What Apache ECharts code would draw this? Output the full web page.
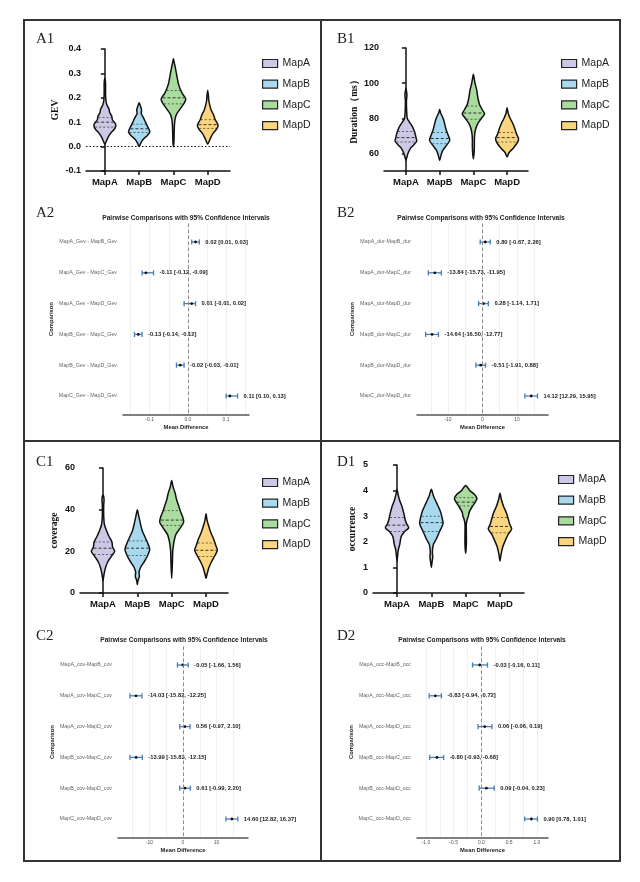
<!DOCTYPE html>
<html>
<head>
<meta charset="utf-8">
<script src="https://cdn.jsdelivr.net/npm/echarts@6/dist/echarts.min.js"></script>
<style>
  html, body { margin: 0; padding: 0; background: #fff; }
  #chart { width: 640px; height: 882px; }
</style>
</head>
<body>
<div id="chart"></div>
<script>
const maps = ['MapA', 'MapB', 'MapC', 'MapD'];
const mapColors = ['#cdc8e6', '#a9d9ef', '#a9dc9e', '#fad680'];

// violin outlines: [value, half width in category units]
const gevA = [[0.28,0],[0.26,0.02],[0.22,0.02],[0.19,0.03],[0.17,0.06],[0.155,0.12],[0.14,0.14],[0.125,0.2],[0.11,0.22],[0.095,0.3],[0.085,0.32],[0.07,0.27],[0.055,0.17],[0.04,0.1],[0.025,0.05],[0.01,0]];
const gevB = [[0.18,0],[0.165,0.04],[0.15,0.07],[0.135,0.06],[0.12,0.12],[0.105,0.17],[0.09,0.22],[0.075,0.27],[0.06,0.31],[0.045,0.24],[0.03,0.12],[0.015,0.05],[0,0]];
const gevC = [[0.36,0],[0.34,0.03],[0.32,0.06],[0.29,0.1],[0.26,0.14],[0.235,0.2],[0.215,0.27],[0.195,0.36],[0.175,0.3],[0.155,0.2],[0.135,0.1],[0.115,0.05],[0.09,0.03],[0.05,0.02],[0.02,0.015],[0,0]];
const gevD = [[0.23,0],[0.21,0.02],[0.19,0.03],[0.17,0.06],[0.15,0.1],[0.13,0.17],[0.11,0.22],[0.095,0.28],[0.085,0.3],[0.07,0.25],[0.055,0.16],[0.04,0.1],[0.025,0.05],[0.01,0]];
const gevQuart = [[0.08,0.10,0.12],[0.058,0.073,0.092],[0.175,0.2,0.23],[0.075,0.09,0.11]];

const durA = [[97,0],[95,0.02],[93,0.03],[90,0.015],[85,0.02],[80,0.04],[78,0.1],[75,0.2],[72,0.26],[69,0.3],[67,0.32],[65,0.24],[63,0.14],[60,0.06],[58,0.03],[56,0]];
const durB = [[85,0],[83,0.03],[81,0.08],[79,0.12],[76,0.16],[73,0.2],[70,0.26],[67.5,0.3],[65,0.22],[62,0.1],[59,0.04],[56,0]];
const durC = [[105,0],[102,0.03],[99,0.06],[96,0.1],[92,0.13],[88,0.18],[85,0.26],[82.5,0.33],[80,0.24],[77,0.13],[74,0.07],[71,0.04],[68,0.03],[64,0.03],[60,0.02],[57,0]];
const durD = [[86,0],[83,0.03],[80,0.09],[77,0.17],[74,0.23],[71,0.28],[68.5,0.34],[66,0.3],[63,0.18],[60.5,0.06],[58,0]];
const durQuart = [[66.5,69,72.5],[65.5,68.5,72],[79.5,83,87],[66.5,69,72]];

const covA = [[47,0],[45,0.03],[42,0.02],[37,0.02],[33,0.04],[30,0.1],[27,0.18],[24.5,0.26],[22,0.28],[20,0.34],[17.5,0.24],[15,0.14],[12,0.07],[9,0.03],[6,0]];
const covB = [[40,0],[37,0.04],[34,0.08],[30,0.14],[27,0.22],[24,0.3],[21,0.36],[18,0.3],[15,0.2],[12.5,0.1],[10,0.05],[8,0.06],[6,0.02],[4,0]];
const covC = [[54,0],[51,0.04],[48,0.1],[45,0.14],[42,0.2],[39,0.26],[36.5,0.32],[34,0.35],[31,0.24],[28,0.12],[25,0.07],[23,0.05],[20,0.03],[14,0.02],[7,0]];
const covD = [[38,0],[35,0.03],[32,0.08],[29,0.14],[26,0.22],[23,0.28],[20.5,0.33],[18,0.26],[15,0.16],[12,0.08],[9,0.03],[7,0]];
const covQuart = [[18.5,21.5,24.5],[18,21.5,25],[32.5,35,39.5],[17.5,20.5,24]];

const occA = [[4.05,0],[3.85,0.03],[3.6,0.08],[3.4,0.14],[3.1,0.2],[2.85,0.24],[2.7,0.28],[2.55,0.34],[2.4,0.22],[2.2,0.12],[1.9,0.08],[1.7,0.04],[1.5,0.02],[1.25,0]];
const occB = [[4.05,0],[3.8,0.06],[3.5,0.16],[3.2,0.26],[2.9,0.32],[2.7,0.34],[2.4,0.24],[2.1,0.14],[1.9,0.06],[1.6,0.03],[1.4,0.04],[1.2,0.02],[1.0,0]];
const occC = [[4.2,0],[4.0,0.12],[3.85,0.26],[3.7,0.33],[3.55,0.28],[3.35,0.18],[3.15,0.1],[3.0,0.08],[2.9,0.05],[2.7,0.02],[2.3,0.02],[1.9,0.02],[1.55,0]];
const occD = [[3.9,0],[3.65,0.04],[3.4,0.1],[3.15,0.18],[2.9,0.24],[2.7,0.28],[2.5,0.34],[2.3,0.24],[2.0,0.14],[1.8,0.08],[1.5,0.03],[1.25,0]];
const occQuart = [[2.4,2.65,2.95],[2.4,2.75,3.0],[3.4,3.55,3.72],[2.35,2.6,2.95]];

// y tick labels of the violin panels
const gevTicks = [-0.1, 0, 0.1, 0.2, 0.3, 0.4];
const durTicks = [60, 80, 100, 120];
const covTicks = [0, 20, 40, 60];
const occTicks = [0, 1, 2, 3, 4, 5];

// pairwise comparisons: mean difference with 95% CI
const gevNames = ['MapA_Gev - MapB_Gev','MapA_Gev - MapC_Gev','MapA_Gev - MapD_Gev','MapB_Gev - MapC_Gev','MapB_Gev - MapD_Gev','MapC_Gev - MapD_Gev'];
const gevMean = [0.02, -0.11, 0.01, -0.13, -0.02, 0.11];
const gevLo = [0.01, -0.12, -0.01, -0.14, -0.03, 0.10];
const gevHi = [0.03, -0.09, 0.02, -0.12, -0.01, 0.13];

const durNames = ['MapA_dur-MapB_dur','MapA_dur-MapC_dur','MapA_dur-MapD_dur','MapB_dur-MapC_dur','MapB_dur-MapD_dur','MapC_dur-MapD_dur'];
const durMean = [0.80, -13.84, 0.28, -14.64, -0.51, 14.12];
const durLo = [-0.67, -15.73, -1.14, -16.50, -1.91, 12.29];
const durHi = [2.26, -11.95, 1.71, -12.77, 0.88, 15.95];

const covNames = ['MapA_cov-MapB_cov','MapA_cov-MapC_cov','MapA_cov-MapD_cov','MapB_cov-MapC_cov','MapB_cov-MapD_cov','MapC_cov-MapD_cov'];
const covMean = [-0.05, -14.03, 0.56, -13.99, 0.61, 14.60];
const covLo = [-1.66, -15.82, -0.97, -15.83, -0.99, 12.82];
const covHi = [1.56, -12.25, 2.10, -12.15, 2.20, 16.37];

const occNames = ['MapA_occ-MapB_occ','MapA_occ-MapC_occ','MapA_occ-MapD_occ','MapB_occ-MapC_occ','MapB_occ-MapD_occ','MapC_occ-MapD_occ'];
const occMean = [-0.03, -0.83, 0.06, -0.80, 0.09, 0.90];
const occLo = [-0.16, -0.94, -0.06, -0.93, -0.04, 0.78];
const occHi = [0.11, -0.72, 0.19, -0.68, 0.23, 1.01];

const SANS = 'Liberation Sans';
const SERIF = 'Liberation Serif';
const ciBlue = '#4a7db6';

const grid = [], xAxis = [], yAxis = [], series = [], legend = [];

// half width of a violin at value v (outline is sorted top to bottom)
function widthAt(profile, v) {
  for (let i = 0; i < profile.length - 1; i++) {
    const a = profile[i], b = profile[i + 1];
    if (v <= a[0] && v >= b[0]) {
      const t = (a[0] - v) / (a[0] - b[0]);
      return a[1] + (b[1] - a[1]) * t;
    }
  }
  return 0;
}

function violinPanel(box, xRange, yRange, ticks, tickFmt, yName, nameGap, profiles, quarts, legendPos, zeroLine) {
  const gi = grid.length;
  grid.push({ left: box[0], top: box[1], width: box[2], height: box[3], containLabel: false, outerBoundsMode: 'none' });
  xAxis.push({
    type: 'value', gridIndex: gi, min: xRange[0], max: xRange[1],
    axisLine: { show: true, onZero: false, lineStyle: { color: '#111', width: 1.5 } },
    axisTick: { show: true, customValues: [0, 1, 2, 3], length: 4, lineStyle: { color: '#111', width: 1.5 } },
    axisLabel: { customValues: [0, 1, 2, 3], formatter: v => maps[v], color: '#111', fontWeight: 'bold', fontSize: 9.5, fontFamily: SANS, margin: 6 },
    splitLine: { show: false }
  });
  yAxis.push({
    type: 'value', gridIndex: gi, min: yRange[0], max: yRange[1],
    name: yName, nameLocation: 'middle', nameGap: nameGap,
    nameTextStyle: { fontFamily: SERIF, fontWeight: 'bold', fontSize: 9.5, color: '#111' },
    axisLine: { show: true, lineStyle: { color: '#111', width: 1.5 } },
    axisTick: { show: true, customValues: ticks, length: 4, lineStyle: { color: '#111', width: 1.5 } },
    axisLabel: { customValues: ticks, formatter: tickFmt, color: '#111', fontWeight: 'bold', fontSize: 9, fontFamily: SANS, margin: 5 },
    splitLine: { show: false }
  });
  profiles.forEach((profile, i) => {
    const quart = quarts[i];
    const s = {
      type: 'custom', name: maps[i], xAxisIndex: gi, yAxisIndex: gi,
      itemStyle: { color: mapColors[i] }, silent: true, animation: false,
      data: [[i, quart[1]]],
      renderItem: (params, api) => {
        const c = api.value(0);
        const right = profile.map(p => api.coord([c + p[1], p[0]]));
        const left = profile.slice().reverse().filter(p => p[1] > 0).map(p => api.coord([c - p[1], p[0]]));
        const children = [{
          type: 'polygon',
          shape: { points: right.concat(left), smooth: 0.25 },
          style: { fill: api.visual('color'), stroke: '#111', lineWidth: 1.5, lineJoin: 'round' }
        }];
        quart.forEach((q, k) => {
          const w = widthAt(profile, q) - 0.02;
          const a = api.coord([c - w, q]), b = api.coord([c + w, q]);
          children.push({
            type: 'line', shape: { x1: a[0], y1: a[1], x2: b[0], y2: b[1] },
            style: { stroke: '#333', lineWidth: k === 1 ? 1 : 0.7, lineDash: k === 1 ? [3, 2] : [2, 2] }
          });
        });
        return { type: 'group', children };
      }
    };
    if (i === 0 && zeroLine) {
      s.markLine = {
        silent: true, symbol: 'none', animation: false, label: { show: false },
        lineStyle: { color: '#111', type: [1.5, 2], width: 1.2 },
        data: [{ yAxis: 0 }]
      };
    }
    series.push(s);
  });
  legend.push({
    orient: 'vertical', left: legendPos[0], top: legendPos[1], icon: 'rect',
    itemWidth: 15, itemHeight: 8, itemGap: 9.7, selectedMode: false,
    itemStyle: { borderColor: '#222', borderWidth: 1.2 },
    textStyle: { fontFamily: SANS, fontSize: 10.5, color: '#222' },
    data: maps
  });
}

function forestPanel(box, xRange, gridVals, labelVals, labelFmt, names, mean, lo, hi, nameGap) {
  const gi = grid.length;
  grid.push({ left: box[0], top: box[1], width: box[2], height: box[3], containLabel: false, outerBoundsMode: 'none' });
  xAxis.push({
    type: 'value', gridIndex: gi, min: xRange[0], max: xRange[1],
    name: 'Mean Difference', nameLocation: 'middle', nameGap: 10,
    nameTextStyle: { fontFamily: SANS, fontWeight: 'bold', fontSize: 5.8, color: '#222' },
    axisLine: { show: true, onZero: false, lineStyle: { color: '#555', width: 1.5 } },
    axisTick: { show: false, customValues: gridVals },
    axisLabel: { customValues: labelVals, formatter: labelFmt, color: '#555', fontSize: 5, fontFamily: SANS, margin: 3 },
    splitLine: { show: true, lineStyle: { color: '#ececec', width: 0.8 } }
  });
  yAxis.push({
    type: 'value', gridIndex: gi, min: -0.6, max: 5.6, inverse: true,
    name: 'Comparison', nameLocation: 'middle', nameGap: nameGap,
    nameTextStyle: { fontFamily: SANS, fontWeight: 'bold', fontSize: 5.8, color: '#222' },
    axisLine: { show: false }, axisTick: { show: false },
    axisLabel: { customValues: [0, 1, 2, 3, 4, 5], formatter: v => names[v], color: '#666', fontSize: 5.3, fontFamily: SANS, margin: 6 },
    splitLine: { show: false }
  });
  series.push({
    type: 'custom', xAxisIndex: gi, yAxisIndex: gi, silent: true, animation: false,
    data: mean.map((m, i) => [m, lo[i], hi[i], i]),
    renderItem: (params, api) => {
      const m = api.value(0), l = api.value(1), h = api.value(2), r = api.value(3);
      const p0 = api.coord([l, r]), p1 = api.coord([h, r]), pm = api.coord([m, r]);
      const cap = 2.6;
      const st = { stroke: ciBlue, lineWidth: 1.3 };
      return {
        type: 'group', children: [
          { type: 'line', shape: { x1: p0[0], y1: p0[1], x2: p1[0], y2: p1[1] }, style: st },
          { type: 'line', shape: { x1: p0[0], y1: p0[1] - cap, x2: p0[0], y2: p0[1] + cap }, style: st },
          { type: 'line', shape: { x1: p1[0], y1: p1[1] - cap, x2: p1[0], y2: p1[1] + cap }, style: st },
          { type: 'circle', shape: { cx: pm[0], cy: pm[1], r: 1.4 }, style: { fill: '#111' } },
          {
            type: 'text', x: p1[0] + 6, y: p1[1],
            style: {
              text: m.toFixed(2) + ' [' + l.toFixed(2) + ', ' + h.toFixed(2) + ']',
              font: 'bold 5.8px "Liberation Sans"', fill: '#222', verticalAlign: 'middle'
            }
          }
        ]
      };
    },
    markLine: {
      silent: true, symbol: 'none', animation: false, label: { show: false },
      lineStyle: { color: '#8a8a8a', type: [3.5, 2.5], width: 1 },
      data: [{ xAxis: 0 }]
    }
  });
}

violinPanel([86, 49, 144, 122], [-0.55, 3.65], [-0.1, 0.4], gevTicks, v => v.toFixed(1), 'GEV', 25,
  [gevA, gevB, gevC, gevD], gevQuart, [257, 53], true);
violinPanel([384, 48, 144, 123], [-0.65, 3.62], [50, 120], durTicks, v => String(v), 'Duration（ms）', 24,
  [durA, durB, durC, durD], durQuart, [556, 53], false);
violinPanel([80, 468, 148, 125], [-0.67, 3.64], [0, 60], covTicks, v => String(v), 'coverage', 20,
  [covA, covB, covC, covD], covQuart, [257, 472], false);
violinPanel([373, 465, 151, 128], [-0.7, 3.7], [0, 5], occTicks, v => String(v), 'occurrence', 15,
  [occA, occB, occC, occD], occQuart, [553, 469], false);

forestPanel([123, 223.5, 126, 191], [-0.17, 0.16], [-0.15, -0.1, -0.05, 0, 0.05, 0.1, 0.15], [-0.1, 0, 0.1],
  v => v.toFixed(1), gevNames, gevMean, gevLo, gevHi, 58);
forestPanel([417, 223.5, 131, 191], [-19, 19], [-15, -10, -5, 0, 5, 10, 15], [-10, 0, 10],
  v => String(v), durNames, durMean, durLo, durHi, 55);
forestPanel([118, 646.5, 130, 191], [-19.4, 19.4], [-15, -10, -5, 0, 5, 10, 15], [-10, 0, 10],
  v => String(v), covNames, covMean, covLo, covHi, 53);
forestPanel([417, 646.5, 131, 191], [-1.16, 1.2], [-1, -0.75, -0.5, -0.25, 0, 0.25, 0.5, 0.75, 1], [-1, -0.5, 0, 0.5, 1],
  v => v.toFixed(1), occNames, occMean, occLo, occHi, 55);

// panel letters and forest titles
const panelLabel = (text, x, y) => ({ type: 'text', x, y, silent: true, style: { text, font: '15px "Liberation Serif"', fill: '#222' } });
const forestTitle = (x, y) => ({
  type: 'text', x, y, silent: true,
  style: { text: 'Pairwise Comparisons with 95% Confidence Intervals', font: 'bold 6.6px "Liberation Sans"', fill: '#222', align: 'center', verticalAlign: 'middle' }
});

const graphic = [
  { type: 'rect', silent: true, shape: { x: 24, y: 20, width: 596, height: 841 }, style: { fill: 'none', stroke: '#333', lineWidth: 2 } },
  { type: 'line', silent: true, shape: { x1: 321, y1: 20, x2: 321, y2: 861 }, style: { stroke: '#333', lineWidth: 2 } },
  { type: 'line', silent: true, shape: { x1: 24, y1: 441, x2: 620, y2: 441 }, style: { stroke: '#333', lineWidth: 2 } },
  panelLabel('A1', 36, 32), panelLabel('B1', 337, 32),
  panelLabel('A2', 36, 206), panelLabel('B2', 337, 206),
  panelLabel('C1', 36, 455), panelLabel('D1', 337, 455),
  panelLabel('C2', 36, 629), panelLabel('D2', 337, 629),
  forestTitle(186, 218), forestTitle(481, 218),
  forestTitle(184, 640), forestTitle(482, 640)
];

const chart = echarts.init(document.getElementById('chart'), null, { renderer: 'canvas' });
chart.setOption({
  backgroundColor: '#fff',
  animation: false,
  textStyle: { fontFamily: SANS },
  tooltip: { show: false },
  grid, xAxis, yAxis, series, legend, graphic
});
</script>
</body>
</html>
